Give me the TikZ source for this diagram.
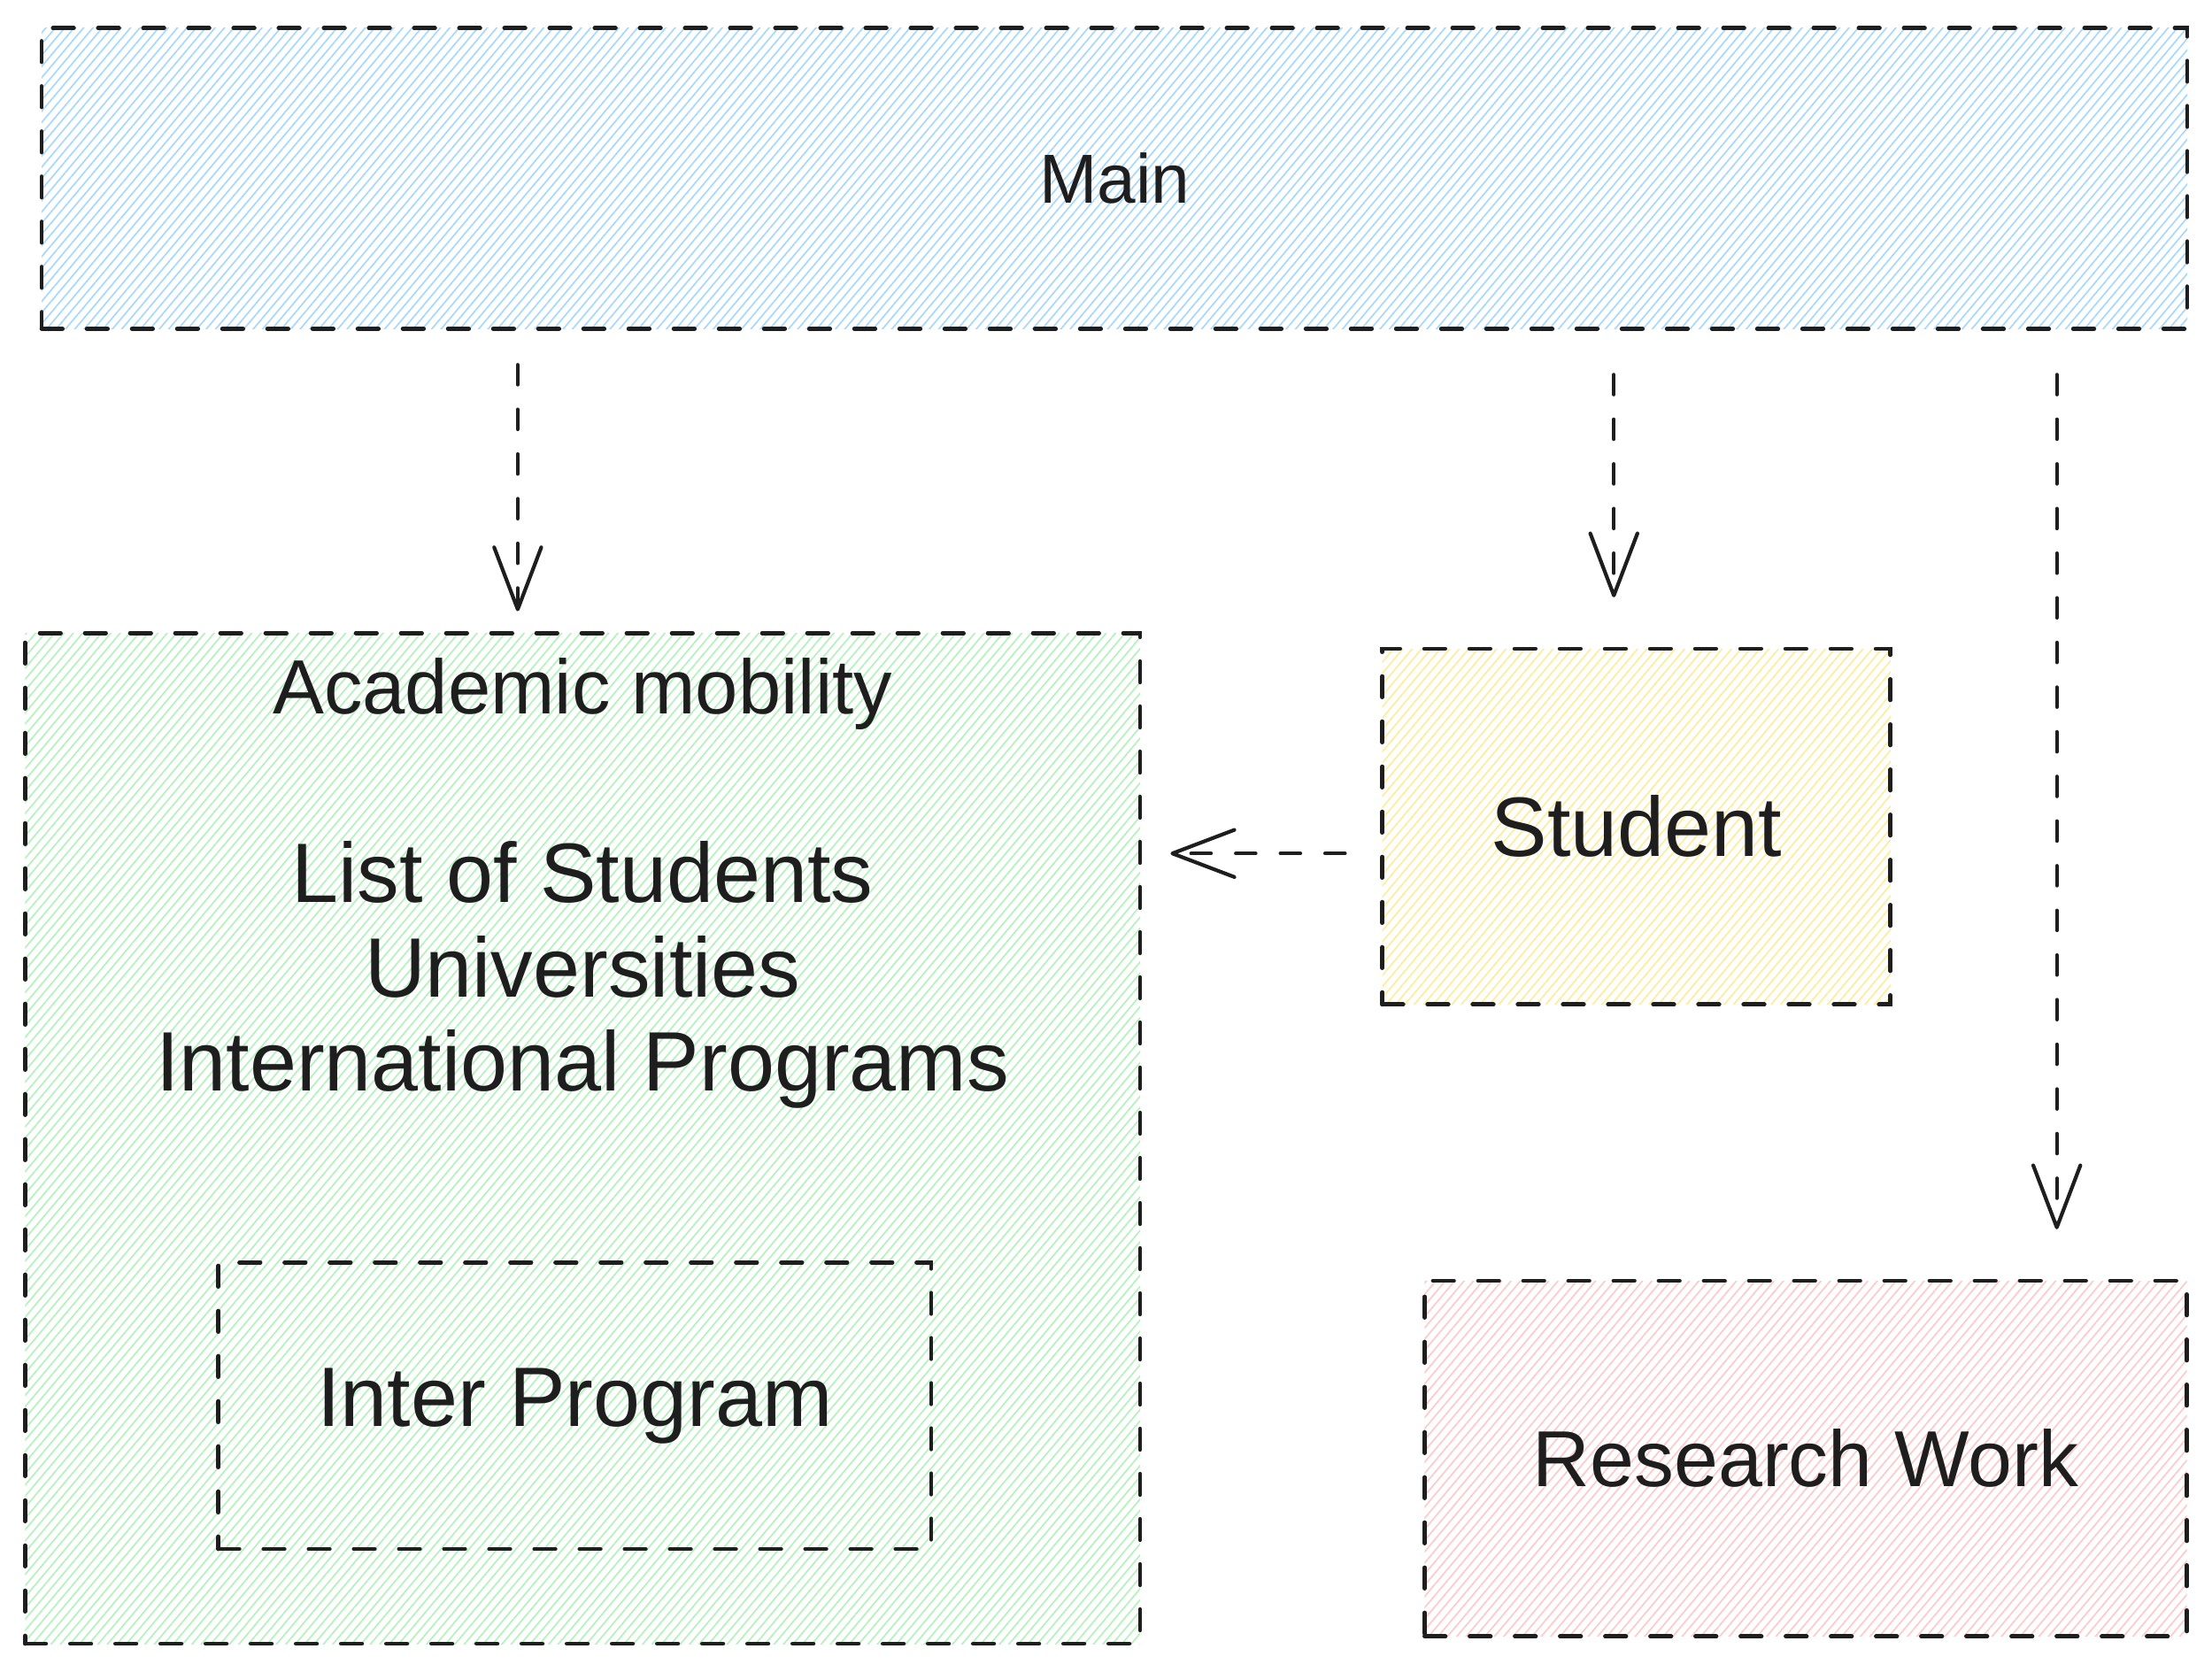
\documentclass[tikz,border=0pt]{standalone}
\usepackage{fontspec}
\setmainfont{Liberation Sans}
\usetikzlibrary{patterns.meta,arrows.meta,calc}
\definecolor{ink}{HTML}{1E1E1E}
\definecolor{hblue}{HTML}{A5D8FF}
\definecolor{hgreen}{HTML}{B2F2BB}
\definecolor{hyellow}{HTML}{FFEC99}
\definecolor{hred}{HTML}{FFC9C9}

\begin{document}
\begin{tikzpicture}[x=0.01cm,y=-0.01cm]
    \tikzstyle{box}=[rectangle,inner sep=0pt,draw=ink,line width=0.85pt,dash pattern=on 4.2pt off 4.9pt,line cap=round,text=ink,font=\fontsize{17}{19}\selectfont]
    \tikzstyle{hatch}=[pattern={Lines[angle=50,distance=1.45pt,line width=0.3pt]}]
    \tikzstyle{link}=[draw=ink,line width=0.75pt,dash pattern=on 4pt off 5pt,line cap=round,-{Straight Barb[length=12.5pt,width=9.5pt,round]}]
    \useasboundingbox (0,0) rectangle (1568,1185);
    \node (main)[box,hatch,pattern color=hblue,minimum width=15.2cm,minimum height=2.13cm,font=\fontsize{14}{16}\selectfont] at (790,126.5) {Main};
    \node (acad)[box,hatch,pattern color=hgreen,minimum width=7.9cm,minimum height=7.16cm] at (413,807) {};
    \node (acadtext)[anchor=north,inner sep=0pt,align=center,text=ink,font=\fontsize{17}{19}\selectfont] at (413,466) {{\fontsize{15.5}{19}\selectfont Academic mobility}\\[19pt]List of Students\\Universities\\International Programs};
    \node (inter)[box,minimum width=5.05cm,minimum height=2.03cm] at (407.5,996.5) {Inter Program};
    \node (student)[box,hatch,pattern color=hyellow,minimum width=3.6cm,minimum height=2.52cm] at (1160,586) {Student};
    \node (research)[box,hatch,pattern color=hred,minimum width=5.4cm,minimum height=2.52cm,font=\fontsize{16}{18}\selectfont] at (1280,1034) {Research Work};
    \draw[link,shorten <=0.25cm,shorten >=0.14cm] ($(acad.north |- main.south)+(-46,0)$) -- ($(acad.north)+(-46,0)$);
    \draw[link,shorten <=0.32cm,shorten >=0.35cm] ($(student.north |- main.south)+(-16,0)$) -- ($(student.north)+(-16,0)$);
    \draw[link,shorten <=0.32cm,shorten >=0.35cm] ($(research.north |- main.south)+(178,0)$) -- ($(research.north)+(178,0)$);
    \draw[link,shorten <=0.25cm,shorten >=0.2cm] ($(student.west)+(0,19)$) -- ($(acad.east |- student.west)+(0,19)$);
\end{tikzpicture}
\end{document}
